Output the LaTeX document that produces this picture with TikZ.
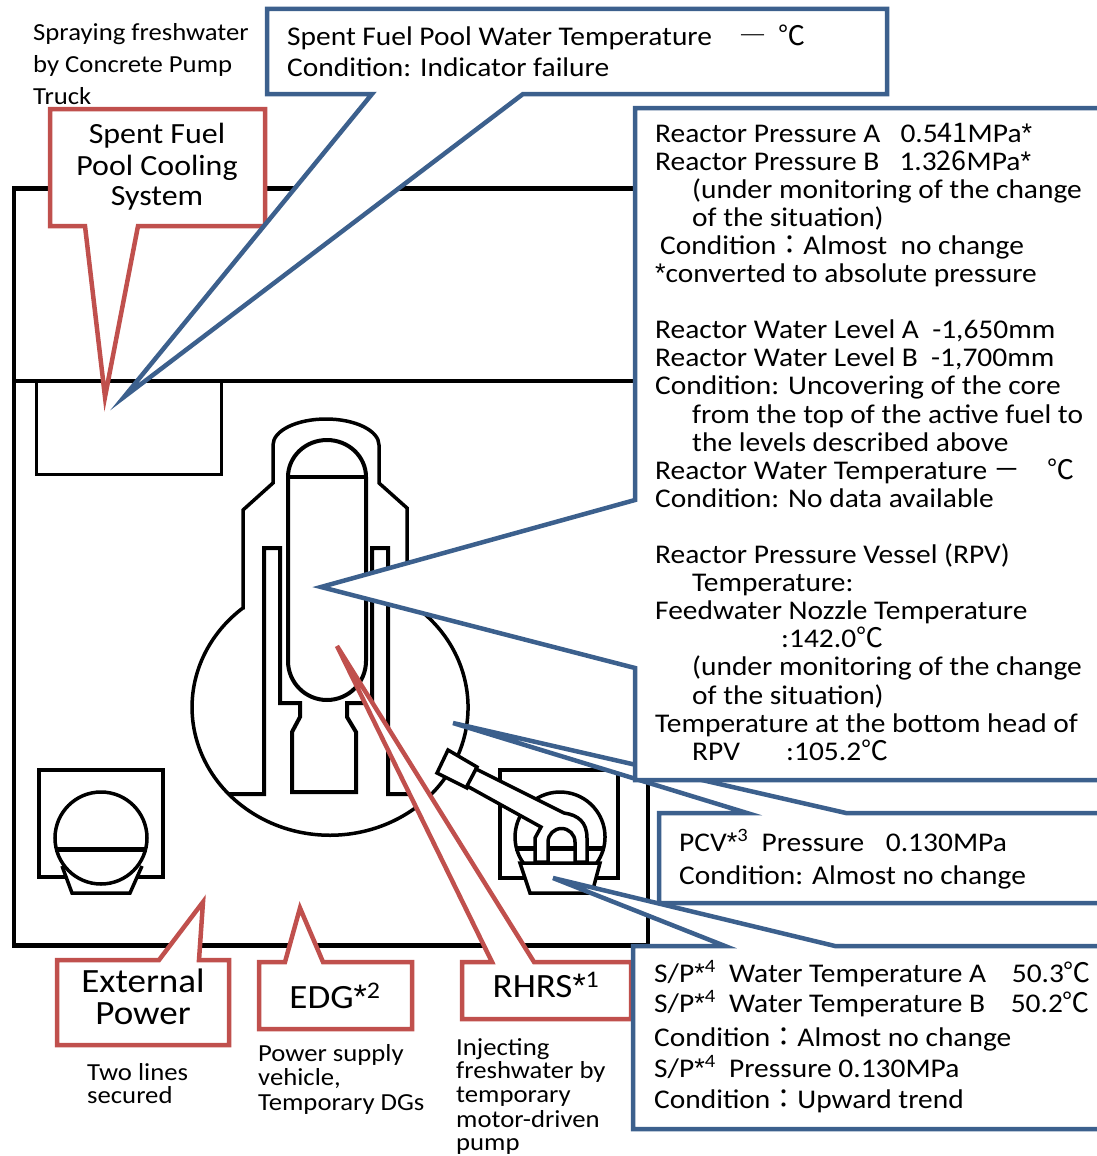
\documentclass[tikz,border=0pt]{standalone}
\usepackage{fontspec}
\setmainfont{Carlito}[FakeStretch=1.09]
\newfontfamily\cjk{Noto Sans CJK JP}
\newfontfamily\astf{Liberation Sans}
\newcommand\as{{\astf *}}
\definecolor{cblue}{RGB}{60,96,141}
\definecolor{cred}{RGB}{192,80,77}
\tikzset{
  bl/.style={draw=cblue, line width=4.5pt, fill=white},
  rd/.style={draw=cred, line width=4.5pt, fill=white},
  bk/.style={draw=black, line width=3.5pt},
  bkf/.style={draw=black, line width=3.5pt, fill=white},
  tx/.style={inner sep=0pt, anchor=base west, font=\fontsize{27}{30}\selectfont},
  sm/.style={inner sep=0pt, anchor=base west, font=\fontsize{24.5}{27}\selectfont},
  rl/.style={inner sep=0pt, anchor=base, font=\fontsize{29.3}{32}\selectfont},
  bg/.style={inner sep=0pt, anchor=base, font=\fontsize{34}{38}\selectfont},
}
\begin{document}
\begin{tikzpicture}[x=1pt,y=-1pt]
\useasboundingbox (0,0) rectangle (1097,1156);
% building
\draw[bk] (14,188) rectangle (648,945);
\draw[line width=5pt] (12,188) -- (650,188);
\draw[line width=5pt] (12,945) -- (650,945);
\draw[bk] (14,381) -- (648,381);
\draw[line width=3pt] (36,381) -- (36,474) -- (221,474) -- (221,381);
% PCV
\draw[bk] (243,608) -- (243,510) -- (273,483) -- (273,445)
  arc[start angle=180, end angle=360, x radius=53, y radius=26]
  -- (379,483) -- (407,508) -- (407,601)
  arc[start angle=-56.1, end angle=230.8, x radius=138, y radius=128] -- cycle;
% RPV
\draw[line width=4pt] (288,477) -- (288,661) arc[start angle=180, end angle=0, radius=39]
  -- (366,477) arc[start angle=0, end angle=-180, x radius=39, y radius=37];
\draw[line width=4pt] (288,477) -- (366,477);
% shield and pedestal
\draw[line width=4pt] (229,794) -- (264,794) -- (264,548) -- (280,548) -- (280,703) -- (300,703)
  -- (300,717) -- (292,732) -- (292,792) -- (356,792) -- (356,732) -- (347,717) -- (347,703)
  -- (372,703) -- (372,548) -- (388,548) -- (388,794) -- (431,794);
% valve
\draw[bkf] (448,750) -- (477,767) -- (467,788) -- (437,773) -- cycle;
% left device
\draw[bk] (39,770) rectangle (163,877);
\fill[white] (62,866) -- (72,893) -- (130,893) -- (142,866) -- cycle;
\draw[bk] (62,866) -- (72,893) -- (130,893) -- (142,866);
\draw[bk] (101,838) circle[radius=46];
\draw[line width=5pt] (55,849) -- (147,849);
% right device
\draw[bk] (500,770) rectangle (618,878);
\draw[bkf] (520,863) -- (600,863) -- (592,893) -- (530,893) -- cycle;
\draw[bk] (523.3,863) arc[start angle=144.7, end angle=395.3, radius=45];
\draw[line width=5pt] (515,848) -- (605,848);
\draw[bkf] (476,769) -- (564,813) .. controls (578,815) and (587,822) .. (587,838) -- (587,862)
  -- (575,862) -- (575,842) arc[start angle=0, end angle=-180, radius=13.5]
  -- (548,862) -- (535,862) -- (535,838) -- (541,827) -- (467,786) -- cycle;
% red callouts
\draw[rd] (50,109) -- (265,109) -- (265,226) -- (138,226) -- (105,397) -- (85,226) -- (50,226) -- cycle;
\draw[rd] (57,960) -- (159,960) -- (203,902) -- (199,960) -- (229,960) -- (229,1045) -- (57,1045) -- cycle;
\draw[rd] (259,962) -- (285,962) -- (300,908) -- (323,962) -- (412,962) -- (412,1029) -- (259,1029) -- cycle;
\draw[rd] (462,962) -- (492,962) -- (337,646) -- (534,962) -- (631,962) -- (631,1019) -- (462,1019) -- cycle;
% blue callouts
\draw[bl] (659,903) -- (659,813) -- (747,813) -- (453,723) -- (846,813) -- (1120,813) -- (1120,903) -- cycle;
\draw[bl] (633,1129) -- (633,946) -- (725,946) -- (553,878) -- (835,946) -- (1120,946) -- (1120,1129) -- cycle;
\draw[bl] (635,108) -- (1120,108) -- (1120,780) -- (635,780) -- (635,668) -- (321,587) -- (635,500) -- cycle;
\draw[bl] (267,9) -- (887,9) -- (887,94) -- (523,94) -- (124,397) -- (372,94) -- (267,94) -- cycle;
% texts
\node[sm] (s1) at (33,41) {Spraying freshwater};
\node[sm] (s2) at (33,73) {by Concrete Pump};
\node[sm] (s3) at (33,104) {Truck};
\node[rl] (p1) at (157,143) {Spent Fuel};
\node[rl] (p2) at (157,175) {Pool Cooling};
\node[rl] (p3) at (157,205) {System};
\node[tx] (f1) at (287,46) {Spent Fuel Pool Water Temperature{\cjk 　―}\hspace{0.45em}{\cjk ℃}};
\node[tx] (f2) at (287,77) {Condition: Indicator failure};
\node[tx] (r0) at (655,142.0) {Reactor Pressure A\hspace{0.75em}0.5{\cjk 41}MPa\as};
\node[tx] (r1) at (655,170.1) {Reactor Pressure B\hspace{0.75em}1.3{\cjk 26}MPa\as};
\node[tx] (r2) at (692,198.2) {(under monitoring of the change};
\node[tx] (r3) at (692,226.3) {of the situation)};
\node[tx] (r4) at (660,254.4) {Condition{\cjk ：}Almost\ \ no change};
\node[tx] (r5) at (655,282.5) {\as converted to absolute pressure};
\node[tx] (r7) at (655,338.7) {Reactor Water Level A\ \ -1,650mm};
\node[tx] (r8) at (655,366.8) {Reactor Water Level B\ \ -1,700mm};
\node[tx] (r9) at (655,394.9) {Condition: Uncovering of the core};
\node[tx] (r10) at (692,423.0) {from the top of the active fuel to};
\node[tx] (r11) at (692,451.1) {the levels described above};
\node[tx] (r12) at (655,479.2) {Reactor Water Temperature {\cjk －　℃}};
\node[tx] (r13) at (655,507.3) {Condition: No data available};
\node[tx] (r15) at (655,563.5) {Reactor Pressure Vessel (RPV)};
\node[tx] (r16) at (692,591.6) {Temperature:};
\node[tx] (r17) at (655,619.7) {Feedwater Nozzle Temperature};
\node[tx] (r18) at (781,647.8) {:142.0{\cjk ℃}};
\node[tx] (r19) at (692,675.9) {(under monitoring of the change};
\node[tx] (r20) at (692,704.0) {of the situation)};
\node[tx] (r21) at (655,732.1) {Temperature at the bottom head of};
\node[tx] (r22) at (692,760.2) {RPV};
\node[tx] (r22b) at (786,760.2) {:105.2{\cjk ℃}};
\node[tx] (c1) at (679,851) {PCV\as\textsuperscript{3}\ \ Pressure\hspace{0.8em}0.130MPa};
\node[tx] (c2) at (679,884) {Condition: Almost no change};
\node[tx] (q1) at (654,982) {S/P\as\textsuperscript{4}\ \ Water Temperature A\hspace{0.95em}50.3{\cjk ℃}};
\node[tx] (q2) at (654,1012) {S/P\as\textsuperscript{4}\ \ Water Temperature B\hspace{0.95em}50.2{\cjk ℃}};
\node[tx] (q3) at (654,1046) {Condition{\cjk ：}Almost no change};
\node[tx] (q4) at (654,1077) {S/P\as\textsuperscript{4}\ \ Pressure 0.130MPa};
\node[tx] (q5) at (654,1108) {Condition{\cjk ：}Upward trend};
\node[bg] (e1) at (143,992) {External};
\node[bg] (e2) at (143,1024) {Power};
\node[bg] (g1) at (335,1008) {EDG\as\textsuperscript{2}};
\node[bg] (h1) at (546,997) {RHRS\as\textsuperscript{1}};
\node[sm] (t1) at (87,1080) {Two lines};
\node[sm] (t2) at (87,1103) {secured};
\node[sm] (v1) at (258,1061) {Power supply};
\node[sm] (v2) at (258,1085) {vehicle,};
\node[sm] (v3) at (258,1110) {Temporary DGs};
\node[sm] (i1) at (456,1055) {Injecting};
\node[sm] (i2) at (456,1078) {freshwater by};
\node[sm] (i3) at (456,1102) {temporary};
\node[sm] (i4) at (456,1127) {motor-driven};
\node[sm] (i5) at (456,1150) {pump};
\end{tikzpicture}
\end{document}
